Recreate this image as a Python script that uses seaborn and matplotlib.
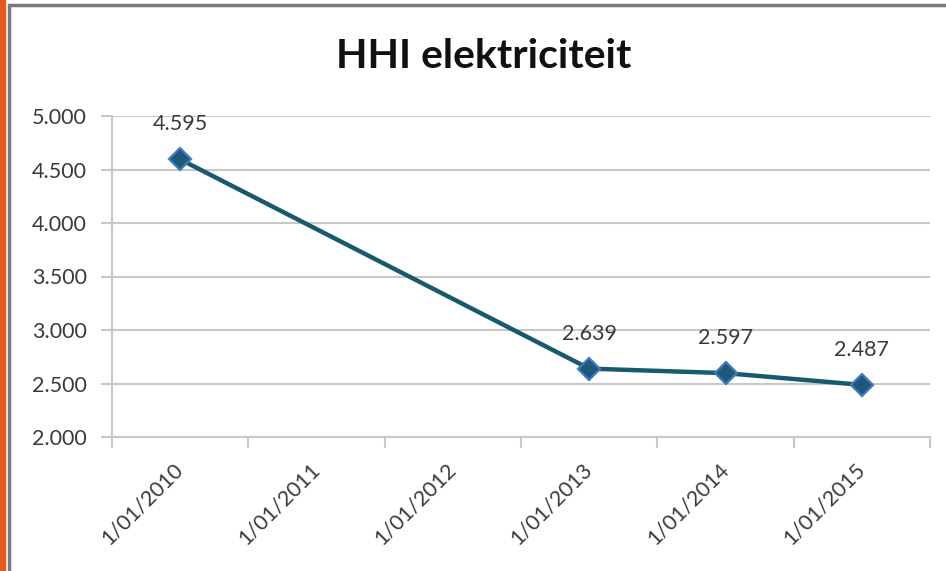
import matplotlib
matplotlib.use("Agg")
import matplotlib.pyplot as plt
import matplotlib.transforms as mtransforms
import seaborn as sns
import pandas as pd
import numpy as np
from matplotlib.patches import Rectangle
from matplotlib.ticker import FuncFormatter, MultipleLocator

categories = ["1/01/2010", "1/01/2011", "1/01/2012", "1/01/2013", "1/01/2014", "1/01/2015"]
values = [4595, None, None, 2639, 2597, 2487]
title = "HHI elektriciteit"

sns.set_theme(style="white")
plt.rcParams['font.family'] = ['Lato', 'DejaVu Sans']

df = pd.DataFrame({"pos": range(len(categories)), "cat": categories, "hhi": values}).dropna()

fig = plt.figure(figsize=(9.46, 5.71), dpi=100)
ax = fig.add_axes([112/946, 1-437/571, (930-112)/946, (437-116)/571])

line_col = "#165a6e"
sns.lineplot(data=df, x="pos", y="hhi", ax=ax, color=line_col, linewidth=3.2,
             marker="D", markersize=11, markerfacecolor="#1f5878",
             markeredgecolor="#3d7bbf", markeredgewidth=1.6, zorder=3)

txt_col = "#3a3a3a"
for p, v in zip(df["pos"], df["hhi"]):
    ax.annotate(f"{int(v):,}".replace(",", "."), (p, v), xytext=(0, 18),
                textcoords="offset points", ha="center", va="bottom",
                fontsize=15.5, color=txt_col)

ax.set_xlim(-0.5, len(categories) - 0.5)
ax.set_ylim(2000, 5000)
ax.yaxis.set_major_locator(MultipleLocator(500))
ax.yaxis.set_major_formatter(FuncFormatter(lambda v, _: f"{int(v):,}".replace(",", ".")))
ax.grid(axis="y", color="#c8c8c8", linewidth=1.5)
ax.set_xticks(range(len(categories)))
ax.set_xticks(np.arange(-0.5, len(categories)), minor=True)
ax.tick_params(axis="x", which="major", length=0, pad=16)
ax.tick_params(axis="x", which="minor", length=8, width=1.5, color="#c8c8c8", direction="out")
ax.tick_params(axis="y", which="major", length=8, width=1.5, color="#c8c8c8", direction="out",
               labelsize=15.5, labelcolor=txt_col, pad=10)
ax.xaxis.set_ticks_position("bottom")
ax.yaxis.set_ticks_position("left")
ax.set_xticklabels(categories, rotation=45, ha="right", rotation_mode="anchor", fontsize=15.5, color=txt_col)
offset = mtransforms.ScaledTranslation(-7/100, 0, fig.dpi_scale_trans)
for lab in ax.get_xticklabels():
    lab.set_transform(lab.get_transform() + offset)
for s in ["top", "right"]:
    ax.spines[s].set_visible(False)
for s in ["left", "bottom"]:
    ax.spines[s].set_color("#c8c8c8")
    ax.spines[s].set_linewidth(1.5)
ax.set_xlabel("")
ax.set_ylabel("")

fig.text(484/946, 1-57/571, title, ha="center", va="center", fontsize=29.5, fontweight="bold", color="#111111")

# outer frame
fig.patches.append(Rectangle((0, 0), 5/946, 1, transform=fig.transFigure, color="#e8581c", zorder=0))
fig.patches.append(Rectangle((9/946, -0.01), 1.2, 1 - 5/571 + 0.01, transform=fig.transFigure,
                             fill=False, edgecolor="#7a7a7a", linewidth=2.5, zorder=0))

fig.savefig("out.png", dpi=100)
